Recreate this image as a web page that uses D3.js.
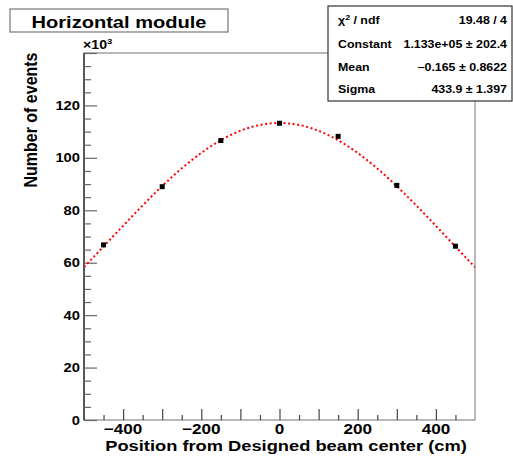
<!DOCTYPE html>
<html>
<head>
<meta charset="utf-8">
<script src="https://cdn.jsdelivr.net/npm/d3@7"></script>
<style>
  html, body { margin: 0; padding: 0; background: #fff; }
  svg { display: block; font-family: "Liberation Sans", Arial, Helvetica, sans-serif; font-weight: bold; }
</style>
</head>
<body>
<svg id="chart" width="513" height="458"></svg>
<script>
// Beam profile of the horizontal module: measured counts vs. position, with a Gaussian fit
const positions = [-450, -300, -150, 0, 150, 300, 450];          // cm
const counts    = [66.8, 89.0, 106.6, 113.2, 108.2, 89.5, 66.3];  // x10^3 events
const countErr  = [0.26, 0.30, 0.33, 0.34, 0.33, 0.30, 0.26];     // x10^3 events
const xTicks = [-400, -200, 0, 200, 400];
const yTicks = [0, 20, 40, 60, 80, 100, 120];
const fitLabels = ["\u03C7", "Constant", "Mean", "Sigma"];
const fitValues = ["19.48 / 4", "1.133e+05 \u00B1 202.4", "\u22120.165 \u00B1 0.8622", "433.9 \u00B1 1.397"];
const fitConstant = 1.133e5, fitMean = -0.165, fitSigma = 433.9;

const svg = d3.select("#chart");
const SX = 1.18; // horizontal glyph stretch used for all labels

const x = d3.scaleLinear().domain([-500, 500]).range([84, 475]);
const y = d3.scaleLinear().domain([0, 140]).range([420, 53]);

function label(px, py, str, size, anchor, rot) {
  const g = svg.append("g")
    .attr("transform", `translate(${px},${py}) scale(${SX},1)` + (rot ? ` rotate(${rot})` : ""));
  return g.append("text")
    .attr("font-size", size)
    .attr("text-anchor", anchor || "start")
    .attr("fill", "#000")
    .text(str);
}

// frame
svg.append("rect").attr("x", 84).attr("y", 53).attr("width", 391).attr("height", 367)
  .attr("fill", "none").attr("stroke", "#8a8a8a").attr("stroke-width", 1.2);
svg.append("line").attr("x1", 84).attr("x2", 84).attr("y1", 53).attr("y2", 420)
  .attr("stroke", "#222").attr("stroke-width", 1.3);

// y axis ticks (inside)
const yAxis = d3.axisRight(y).tickValues(d3.range(0, 141, 5)).tickFormat("")
  .tickSizeOuter(0).tickSize(7);
const gy = svg.append("g").attr("transform", "translate(84,0)").call(yAxis);
gy.select(".domain").remove();
gy.selectAll(".tick line").attr("stroke", "#666").attr("stroke-width", 1.2)
  .attr("x2", d => d % 20 === 0 ? 13 : 7);
yTicks.forEach(v => label(80, y(v) + 4.5, String(v), 12.5, "end"));
const t10 = label(83, 49, "\u00D710", 12, "start");
t10.append("tspan").attr("dy", -5).attr("font-size", 8).text("3");

// x axis ticks (inside)
const xAxis = d3.axisTop(x).tickValues(d3.range(-450, 451, 50)).tickFormat("")
  .tickSizeOuter(0).tickSize(5);
const gx = svg.append("g").attr("transform", "translate(0,420)").call(xAxis);
gx.select(".domain").remove();
gx.selectAll(".tick line").attr("stroke", "#444").attr("stroke-width", 1.2)
  .attr("y2", d => d % 100 === 0 ? -11 : -5);
xTicks.forEach(v => label(x(v), 433.5, v < 0 ? "\u2212" + Math.abs(v) : String(v), 14.5, "middle"));

// axis titles
label(286, 451, "Position from Designed beam center (cm)", 15.5, "middle");
label(37, 120, "Number of events", 16, "middle", -90);

// fit curve
const gauss = v => fitConstant * Math.exp(-0.5 * Math.pow((v - fitMean) / fitSigma, 2)) / 1000;
const curve = d3.range(-500, 500.1, 2).map(v => [v, gauss(v)]);
svg.append("clipPath").attr("id", "plotclip").append("rect")
  .attr("x", 84).attr("y", 53).attr("width", 391).attr("height", 367);
svg.append("path").datum(curve)
  .attr("clip-path", "url(#plotclip)")
  .attr("d", d3.line().x(d => x(d[0])).y(d => y(d[1])))
  .attr("fill", "none").attr("stroke", "#ff0000").attr("stroke-width", 2)
  .attr("stroke-dasharray", "2,2.6");

// data points with error bars
const pts = svg.append("g");
positions.forEach((p, i) => {
  pts.append("line").attr("x1", x(p)).attr("x2", x(p))
    .attr("y1", y(counts[i] - countErr[i])).attr("y2", y(counts[i] + countErr[i]))
    .attr("stroke", "#000").attr("stroke-width", 1);
  pts.append("rect").attr("x", x(p) - 2.5).attr("y", y(counts[i]) - 2.5)
    .attr("width", 5).attr("height", 5).attr("fill", "#000");
});

// title box
svg.append("rect").attr("x", 10).attr("y", 9).attr("width", 218).attr("height", 23)
  .attr("fill", "#fff").attr("stroke", "#777").attr("stroke-width", 1.2);
label(119, 27.5, "Horizontal module", 17, "middle");

// fit statistics box
svg.append("rect").attr("x", 328).attr("y", 6).attr("width", 184).attr("height", 95)
  .attr("fill", "#fff").attr("stroke", "#333").attr("stroke-width", 1.2);
const rowY = [24, 47.5, 70.5, 93];
fitLabels.forEach((s, i) => {
  const t = label(338, rowY[i], s, 10.5, "start");
  if (i === 0) {
    t.append("tspan").attr("dy", -4).attr("font-size", 7.5).text("2");
    t.append("tspan").attr("dy", 4).text(" / ndf");
  }
  label(507, rowY[i], fitValues[i], 10.5, "end");
});
</script>
</body>
</html>
